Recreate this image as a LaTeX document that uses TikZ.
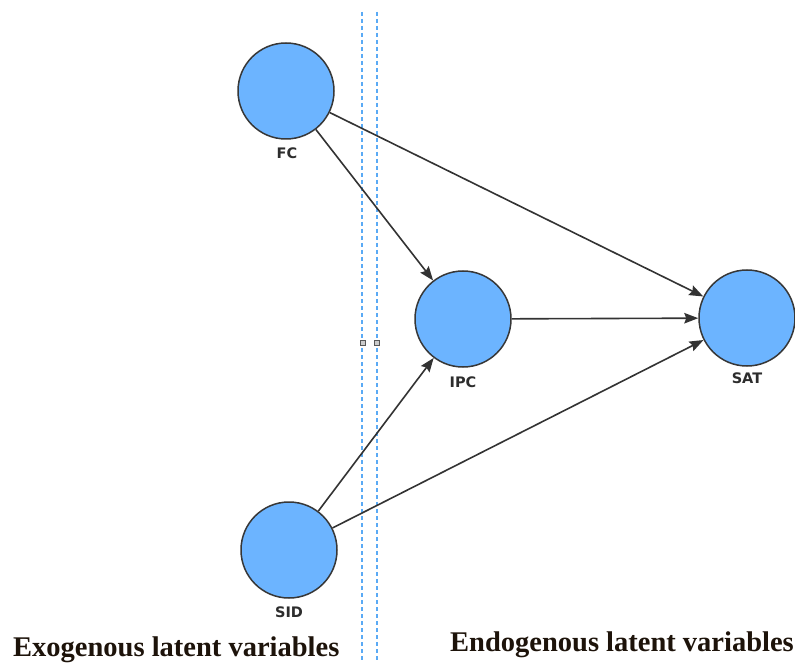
\documentclass[tikz,border=0pt]{standalone}
\usepackage{fontspec}
\setmainfont{Liberation Serif}
\newfontfamily\lblfont{DejaVu Sans}
\usetikzlibrary{arrows.meta}
\definecolor{circfill}{RGB}{108,180,255}
\definecolor{circline}{RGB}{55,55,55}
\definecolor{dashblue}{RGB}{90,170,245}
\definecolor{lblgray}{RGB}{45,45,45}
\tikzset{
  latent/.style={circle, draw=circline, line width=1.5pt, fill=circfill, minimum size=96pt, inner sep=0pt},
  vlabel/.style={font=\lblfont\bfseries\fontsize{14.5}{16}\selectfont, text=lblgray, inner sep=0pt},
  path/.style={draw=black!80, line width=1.6pt, -{Stealth[length=14pt,width=10.5pt,inset=2pt]}},
  sep/.style={draw=dashblue, line width=1.6pt, dash pattern=on 4pt off 3pt},
  handle/.style={draw=gray!70!black, fill=gray!40, minimum size=5pt, inner sep=0pt, line width=0.7pt},
  region/.style={font=\bfseries\fontsize{28.5}{30}\selectfont, text=black!85!brown, inner sep=0pt, anchor=base west}
}
\begin{document}
\begin{tikzpicture}[x=1pt,y=-1pt]
\useasboundingbox[fill=white] (0,0) rectangle (795,663);
% separator lines
\coordinate (l1t) at (362,12); \coordinate (l1b) at (362,663);
\coordinate (l2t) at (377,12); \coordinate (l2b) at (377,663);
\draw[sep] (l1t) -- (l1b);
\draw[sep] (l2t) -- (l2b);
\node[handle] (h1) at (363,343) {};
\node[handle] (h2) at (377,343) {};
% latent variables
\node[latent] (FC) at (286,91) {};
\node[latent] (IPC) at (463,319) {};
\node[latent] (SAT) at (747,318) {};
\node[latent] (SID) at (289,550) {};
\node[vlabel] (FCl) at (287,153) {FC};
\node[vlabel] (IPCl) at (463,382) {IPC};
\node[vlabel] (SATl) at (747,378) {SAT};
\node[vlabel] (SIDl) at (289,612) {SID};
% paths
\draw[path] (FC) -- (SAT);
\draw[path] (FC) -- (IPC);
\draw[path] (IPC) -- (SAT);
\draw[path] (SID) -- (IPC);
\draw[path] (SID) -- (SAT);
% region labels
\node[region] (exo) at (13,656) {Exogenous latent variables};
\node[region] (endo) at (450,651) {Endogenous latent variables};
\end{tikzpicture}
\end{document}
